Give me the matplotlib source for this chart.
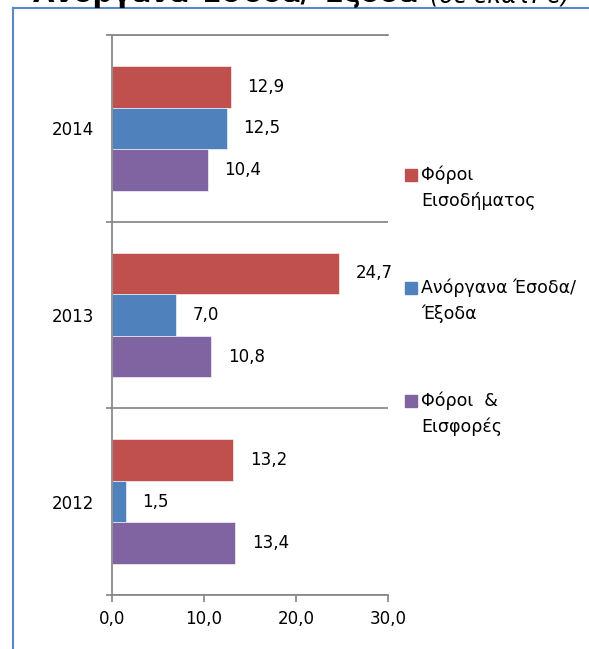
import matplotlib
matplotlib.use('Agg')
import matplotlib.pyplot as plt
from matplotlib.lines import Line2D
from matplotlib.patches import Rectangle
import numpy as np

# data (σε εκατ. €)
years = ['2012', '2013', '2014']
series_names = [['Φόροι', 'Εισοδήματος'],
                ['Ανόργανα Έσοδα/', 'Έξοδα'],
                ['Φόροι  &', 'Εισφορές']]
income_tax = [13.2, 24.7, 12.9]
inorganic = [1.5, 7.0, 12.5]
taxes_contrib = [13.4, 10.8, 10.4]
x_ticks = [0, 10, 20, 30]

RED = '#C0504D'
BLUE = '#4F81BD'
PURPLE = '#8064A2'
GRAY = '#868686'
FONT_SIZE = 12

W, H = 589, 649


def fx(px):
    return px / W


def fy(py):
    return 1 - py / H


fig = plt.figure(figsize=(W / 100, H / 100), dpi=100)
ax = fig.add_axes([fx(111.7), fy(595), 276.6 / W, 560 / H])

y = np.arange(len(years))
h = 0.2225
series = [(income_tax, RED, h), (inorganic, BLUE, 0), (taxes_contrib, PURPLE, -h)]
for values, color, off in series:
    bars = ax.barh(y + off, values, height=h, color=color, edgecolor='white', linewidth=0.4)
    for bar, v in zip(bars, values):
        ax.annotate(f'{v:.1f}'.replace('.', ','),
                    xy=(v, bar.get_y() + bar.get_height() / 2),
                    xytext=(12, 0), textcoords='offset points',
                    ha='left', va='center', fontsize=FONT_SIZE)

ax.set_xlim(0, 30)
ax.set_ylim(-0.5, 2.5)
ax.set_xticks(x_ticks)
ax.set_xticklabels([f'{t:.1f}'.replace('.', ',') for t in x_ticks])
ax.set_yticks([-0.5, 0.5, 1.5, 2.5])
ax.set_yticklabels([])
ax.set_yticks(y, minor=True)
ax.set_yticklabels(years, minor=True)

ax.tick_params(axis='y', which='major', direction='out', length=4.5, width=1.25, color=GRAY)
ax.tick_params(axis='y', which='minor', length=0, pad=13, labelsize=FONT_SIZE)
ax.tick_params(axis='x', direction='out', length=5, width=1.25, color=GRAY, pad=6, labelsize=FONT_SIZE)

ax.yaxis.grid(True, which='major', color=GRAY, linewidth=1.25)
ax.xaxis.grid(False)
for side in ['left', 'bottom', 'top']:
    ax.spines[side].set_color(GRAY)
    ax.spines[side].set_linewidth(1.25)
ax.spines['right'].set_visible(False)

# legend, drawn by hand
legend_y = [175, 288, 401]
for (name, (vals, color, off)), ly in zip(zip(series_names, series), legend_y):
    fig.add_artist(Rectangle((fx(405), fy(ly + 6)), 12 / W, 12 / H,
                             transform=fig.transFigure, color=color))
    fig.text(fx(421), fy(ly), name[0], va='center', ha='left', fontsize=12.5)
    fig.text(fx(421), fy(ly + 26), name[1], va='center', ha='left', fontsize=12.5)

# title cut off at the top
fig.text(fx(33), fy(2.5), 'Ανόργανα Έσοδα/ Έξοδα', fontweight='bold', fontsize=20, va='baseline')
fig.text(fx(430), fy(2.5), '(σε εκατ. €)', fontstyle='italic', fontsize=17, va='baseline')

# outer frame
frame_color = '#5B87C5'
fig.add_artist(Line2D([fx(13), fx(13)], [0, fy(8)], transform=fig.transFigure, color=frame_color, lw=1.5))
fig.add_artist(Line2D([fx(13), 1], [fy(8), fy(8)], transform=fig.transFigure, color=frame_color, lw=1.5))

fig.savefig('out.png', dpi=100)
